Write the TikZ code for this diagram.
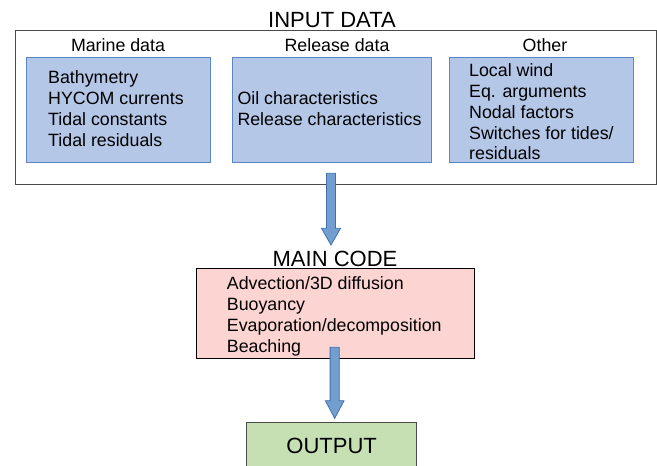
\documentclass[tikz,border=0pt]{standalone}
\usepackage{fontspec}
\setmainfont{Liberation Sans}
\usetikzlibrary{calc}

\definecolor{boxblue}{HTML}{B4C7E7}
\definecolor{boxedge}{HTML}{5B86C5}
\definecolor{arrowfill}{HTML}{729FCF}
\definecolor{arrowedge}{HTML}{3F6FAE}
\definecolor{codepink}{HTML}{FCD5D3}
\definecolor{outgreen}{HTML}{C6E0B4}
\definecolor{frame}{HTML}{4A4A4A}

\tikzset{
  databox/.style={draw=boxedge,fill=boxblue,line width=1pt,anchor=north west,inner sep=0pt},
  item/.style={anchor=west,align=left,inner sep=0pt,font=\fontsize{17.8}{20.9}\selectfont},
  head/.style={anchor=base,inner sep=0pt,font=\fontsize{17.8}{20.9}\selectfont},
  title/.style={anchor=base,inner sep=0pt,font=\fontsize{22}{26}\selectfont},
  blockarrow/.style={draw=arrowedge,fill=arrowfill,line width=0.8pt,line join=miter}
}

% shaft x, top y, head start y, tip y, half shaft, half head
\newcommand{\downblock}[6]{%
  \draw[blockarrow] (#1-#5,#2) -- (#1+#5,#2) -- (#1+#5,#3) -- (#1+#6,#3)
    -- (#1,#4) -- (#1-#6,#3) -- (#1-#5,#3) -- cycle;}

\begin{document}
\begin{tikzpicture}[x=1pt,y=-1pt]
  \useasboundingbox (0,0) rectangle (657,466);

  % input data
  \node[draw=frame,line width=1.2pt,anchor=north west,inner sep=0pt,
        minimum width=641pt,minimum height=154pt] (input) at (14.5,30) {};
  \node[title] (intitle) at (332,27) {INPUT DATA};

  \node[databox,minimum width=184.3pt,minimum height=105.6pt] (marine) at (25.7,56.7) {};
  \node[databox,minimum width=199pt,minimum height=105.6pt] (release) at (231.7,56.7) {};
  \node[databox,minimum width=184.6pt,minimum height=105.6pt] (other) at (448.7,56.7) {};

  \node[head] (marinehead) at (118,51.7) {Marine data};
  \node[head] (releasehead) at (337,51.7) {Release data};
  \node[head] (otherhead) at (545,51.7) {Other};

  \node[item] (marinetxt) at (48,108.5) {Bathymetry\\HYCOM currents\\Tidal constants\\Tidal residuals};
  \node[item] (releasetxt) at (237.3,109) {Oil characteristics\\Release characteristics};
  \node[item] (othertxt) at (469,111.8) {Local wind\\Eq. arguments\\Nodal factors\\Switches for tides/\\residuals};

  % main code
  \node[title] (codetitle) at (335,266) {MAIN CODE};
  \node[draw=black,fill=codepink,line width=1pt,anchor=north west,inner sep=0pt,
        minimum width=278.6pt,minimum height=90.6pt] (code) at (195.7,267.7) {};
  \node[item] (codetxt) at (226.7,316.5) {Advection/3D diffusion\\Buoyancy\\Evaporation/decomposition\\Beaching};

  % output
  \node[draw=frame,fill=outgreen,line width=1pt,anchor=north west,inner sep=0pt,
        minimum width=170pt,minimum height=60pt] (output) at (246,422.3) {};
  \node[title] (outtitle) at (331.7,453.3) {OUTPUT};

  % arrows
  \downblock{331}{173.3}{228.3}{245}{4.5}{9.5}
  \downblock{334.7}{347.3}{400.7}{418.3}{4.6}{9.3}
\end{tikzpicture}
\end{document}
